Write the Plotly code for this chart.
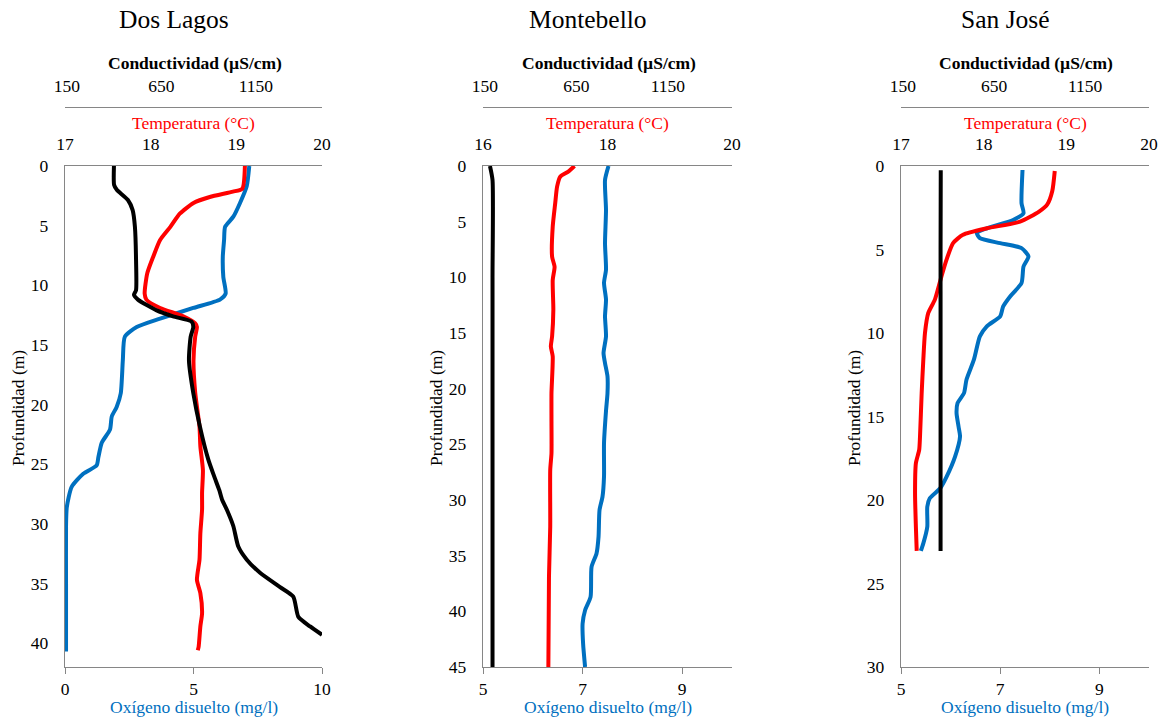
import plotly.graph_objects as go

W, H = 1164, 721

# ---------------- DATA ----------------
# Dos Lagos
dl_cond_depth = [0, 1.6, 2.0, 2.85, 3.7, 5.1, 7.9, 10.4, 10.8, 11.2, 12.1, 12.6, 13.05, 13.5, 14.3, 16.3,
                 19.05, 21.85, 24.6, 26.0, 27.2, 28.0, 28.8, 30.2, 31.9, 33.0, 34.1, 35.3, 36.1, 37.8, 38.6, 39.3]
dl_cond = [399, 400, 414, 473, 498, 510, 516, 516, 505, 526, 625, 712, 810, 819, 805, 796,
           819, 854, 898, 929, 957, 972, 996, 1031, 1057, 1102, 1172, 1278, 1348, 1375, 1437, 1500]
dl_temp_depth = [0, 1.9, 2.15, 2.6, 3.1, 4.0, 5.1, 6.2, 7.6, 9.0, 10.7, 11.2, 11.9, 12.6, 13.2, 13.5, 14.3,
                 16.3, 19.0, 21.85, 23.5, 25.5, 27.4, 28.8, 30.8, 33.0, 34.7, 35.8, 37.5, 38.6, 40.3, 40.6]
dl_temp = [19.10, 19.07, 18.96, 18.69, 18.50, 18.34, 18.23, 18.11, 18.03, 17.96, 17.93, 17.95, 18.11, 18.38,
           18.52, 18.54, 18.52, 18.50, 18.52, 18.57, 18.58, 18.61, 18.60, 18.60, 18.58, 18.57, 18.54, 18.58,
           18.60, 18.58, 18.56, 18.55]
dl_do_depth = [0, 1.7, 3.1, 4.25, 5.1, 6.2, 7.6, 9.3, 10.7, 11.2, 11.9, 12.8, 13.5, 14.3, 16.3, 19.05, 20.2,
               21.0, 22.1, 23.2, 24.4, 25.1, 25.8, 26.9, 28.6, 30.2, 35.0, 40.7]
dl_do = [7.17, 7.07, 6.81, 6.55, 6.23, 6.19, 6.14, 6.16, 6.25, 6.03, 4.99, 3.70, 2.79, 2.33, 2.25, 2.17, 2.01,
         1.82, 1.75, 1.43, 1.30, 1.23, 0.71, 0.26, 0.07, 0.04, 0.04, 0.04]

# Montebello
mb_cond_depth = [0, 1.26, 10, 20, 30, 40, 45]
mb_cond = [178, 192, 192, 192, 192, 192, 192]
mb_temp_depth = [0, 0.5, 0.96, 1.86, 3.35, 5.45, 8.15, 9.05, 10.24, 12.9, 15.3, 16.2, 17.1, 20.4, 23.0, 25.8,
                 27.3, 32.4, 36.9, 45]
mb_temp = [17.47, 17.37, 17.24, 17.19, 17.16, 17.12, 17.11, 17.15, 17.12, 17.13, 17.11, 17.09, 17.12, 17.10,
           17.10, 17.10, 17.08, 17.08, 17.06, 17.05]
mb_do_depth = [0, 1.26, 3.95, 6.95, 9.3, 10.5, 12.0, 13.5, 15.3, 16.8, 17.7, 18.9, 20.4, 22.0, 24.9, 27.9,
               29.7, 30.9, 33.3, 34.8, 36.0, 38.7, 39.9, 41.1, 42.9, 45]
mb_do = [7.52, 7.45, 7.47, 7.45, 7.47, 7.43, 7.47, 7.45, 7.47, 7.42, 7.45, 7.50, 7.50, 7.47, 7.43, 7.43,
         7.40, 7.34, 7.32, 7.28, 7.18, 7.16, 7.05, 7.00, 7.01, 7.05]

# San José
sj_cond_depth = [0.25, 5, 10, 15, 20, 23.05]
sj_cond = [358, 357, 357, 357, 357, 357]
sj_temp_depth = [0.3, 1.5, 2.3, 2.73, 3.33, 3.73, 4.12, 4.62, 5.62, 6.6, 8.0, 8.8, 10.0, 11.6, 13.6, 16.2,
                 17.0, 17.8, 19.6, 21.6, 23.05]
sj_temp = [18.86, 18.83, 18.77, 18.67, 18.44, 18.04, 17.75, 17.63, 17.55, 17.49, 17.41, 17.33, 17.29, 17.27,
           17.25, 17.23, 17.22, 17.18, 17.17, 17.18, 17.19]
sj_do_depth = [0.24, 2.23, 2.83, 3.23, 3.73, 4.02, 4.32, 4.62, 4.92, 5.42, 6.02, 7.01, 7.81, 8.41, 9.0, 9.6,
               10.2, 11.6, 12.8, 13.6, 14.2, 14.8, 15.6, 16.2, 17.4, 18.6, 19.3, 19.9, 20.4, 21.6, 22.6, 23.05]
sj_do = [7.45, 7.43, 7.47, 7.26, 6.73, 6.53, 6.59, 7.00, 7.43, 7.57, 7.47, 7.43, 7.20, 7.06, 7.00, 6.73,
         6.59, 6.47, 6.32, 6.27, 6.14, 6.12, 6.16, 6.19, 6.09, 5.92, 5.79, 5.58, 5.53, 5.53, 5.45, 5.40]

titles = ["Dos Lagos", "Montebello", "San José"]
do_ticks = [[0, 5, 10], [5, 7, 9], [5, 7, 9]]
do_ranges = [[0, 10], [5, 10], [5, 10]]
temp_ticks = [[17, 18, 19, 20], [16, 18, 20], [17, 18, 19, 20]]
temp_ranges = [[17, 20], [16, 20], [17, 20]]
cond_ticks = [150, 650, 1150]
cond_range = [140, 1500]
depth_ranges = [[42, 0], [45, 0], [30, 0]]
depth_ticks = [list(range(0, 45, 5)), list(range(0, 50, 5)), list(range(0, 35, 5))]

# ---------------- LAYOUT HELPERS ----------------
def fx(p):
    return p / W

def fy(p):
    return 1 - p / H

panel_px = [(65, 322), (483, 732), (901, 1149)]
plot_top, plot_bot = 166, 667
cond_line_y = 107

RED = "#FF0000"
BLUE = "#0070C0"
BLACK = "#000000"
GRAY = "#868686"
FONT = "Liberation Serif, Times New Roman, serif"

fig = go.Figure()

data = [
    (dl_cond_depth, dl_cond, dl_temp_depth, dl_temp, dl_do_depth, dl_do),
    (mb_cond_depth, mb_cond, mb_temp_depth, mb_temp, mb_do_depth, mb_do),
    (sj_cond_depth, sj_cond, sj_temp_depth, sj_temp, sj_do_depth, sj_do),
]

layout = {}
annotations = []
ydom = [fy(plot_bot), fy(plot_top)]

for i in range(3):
    xa = 3 * i + 1  # DO axis
    xt = 3 * i + 2  # temperature axis
    xc = 3 * i + 3  # conductivity axis
    yi = i + 1
    dom = [fx(panel_px[i][0]), fx(panel_px[i][1])]
    yname = "y" if yi == 1 else f"y{yi}"
    def xname(n):
        return "x" if n == 1 else f"x{n}"
    def xkey(n):
        return "xaxis" if n == 1 else f"xaxis{n}"
    ykey = "yaxis" if yi == 1 else f"yaxis{yi}"

    cd, cv, td, tv, dd, dv = data[i]
    fig.add_trace(go.Scatter(x=dv, y=dd, xaxis=xname(xa), yaxis=yname, mode="lines",
                             line=dict(color=BLUE, width=4, shape="spline", smoothing=0.6),
                             showlegend=False, hoverinfo="skip"))
    fig.add_trace(go.Scatter(x=tv, y=td, xaxis=xname(xt), yaxis=yname, mode="lines",
                             line=dict(color=RED, width=4, shape="spline", smoothing=0.6),
                             showlegend=False, hoverinfo="skip"))
    fig.add_trace(go.Scatter(x=cv, y=cd, xaxis=xname(xc), yaxis=yname, mode="lines",
                             line=dict(color=BLACK, width=4, shape="spline", smoothing=0.6),
                             showlegend=False, hoverinfo="skip"))

    tickfont = dict(family=FONT, size=17.5, color="black")
    common = dict(showgrid=False, zeroline=False, tickfont=tickfont, fixedrange=True, automargin=False)
    layout[xkey(xa)] = dict(domain=dom, anchor=yname, range=do_ranges[i], tickvals=do_ticks[i],
                            showline=True, linecolor=GRAY, linewidth=1.3, ticks="outside", ticklen=6,
                            tickcolor=GRAY, ticklabelstandoff=0, **common)
    layout[xkey(xt)] = dict(domain=dom, anchor=yname, overlaying=xname(xa), side="top",
                            range=temp_ranges[i], tickvals=temp_ticks[i], showline=True,
                            linecolor=GRAY, linewidth=1.3, ticks="", ticklabelstandoff=8, **common)
    layout[xkey(xc)] = dict(domain=dom, anchor="free", position=fy(cond_line_y), overlaying=xname(xa),
                            side="top", range=cond_range, tickvals=cond_ticks, showline=True,
                            linecolor=GRAY, linewidth=1.3, ticks="", ticklabelstandoff=8, **common)
    layout[ykey] = dict(domain=ydom, anchor=xname(xa), range=depth_ranges[i], tickvals=depth_ticks[i],
                        showline=True, linecolor=GRAY, linewidth=1.3, ticks="", ticklabelstandoff=12,
                        **common)

    cx = (panel_px[i][0] + panel_px[i][1]) / 2
    annotations += [
        dict(text=titles[i], x=fx(cx - 20), y=fy(20), xref="paper", yref="paper", showarrow=False,
             xanchor="center", yanchor="middle", font=dict(family=FONT, size=25.5, color="black")),
        dict(text="<b>Conductividad (µS/cm)</b>", x=fx(cx + 1), y=fy(63), xref="paper", yref="paper",
             showarrow=False, xanchor="center", yanchor="middle",
             font=dict(family=FONT, size=17.5, color="black")),
        dict(text="Temperatura (°C)", x=fx(cx), y=fy(123), xref="paper", yref="paper", showarrow=False,
             xanchor="center", yanchor="middle", font=dict(family=FONT, size=17.5, color=RED)),
        dict(text="Oxígeno disuelto (mg/l)", x=fx(cx), y=fy(707), xref="paper", yref="paper",
             showarrow=False, xanchor="center", yanchor="middle",
             font=dict(family=FONT, size=17.5, color=BLUE)),
        dict(text="Profundidad (m)", x=fx(panel_px[i][0] - 47), y=fy(408), xref="paper", yref="paper",
             showarrow=False, textangle=-90, xanchor="center", yanchor="middle",
             font=dict(family=FONT, size=17.5, color="black")),
    ]

fig.update_layout(**layout)
fig.update_layout(width=W, height=H, margin=dict(l=0, r=0, t=0, b=0, pad=0, autoexpand=False),
                  paper_bgcolor="white", plot_bgcolor="white", annotations=annotations, showlegend=False)

fig.write_html("out.html", config={"displayModeBar": False})
